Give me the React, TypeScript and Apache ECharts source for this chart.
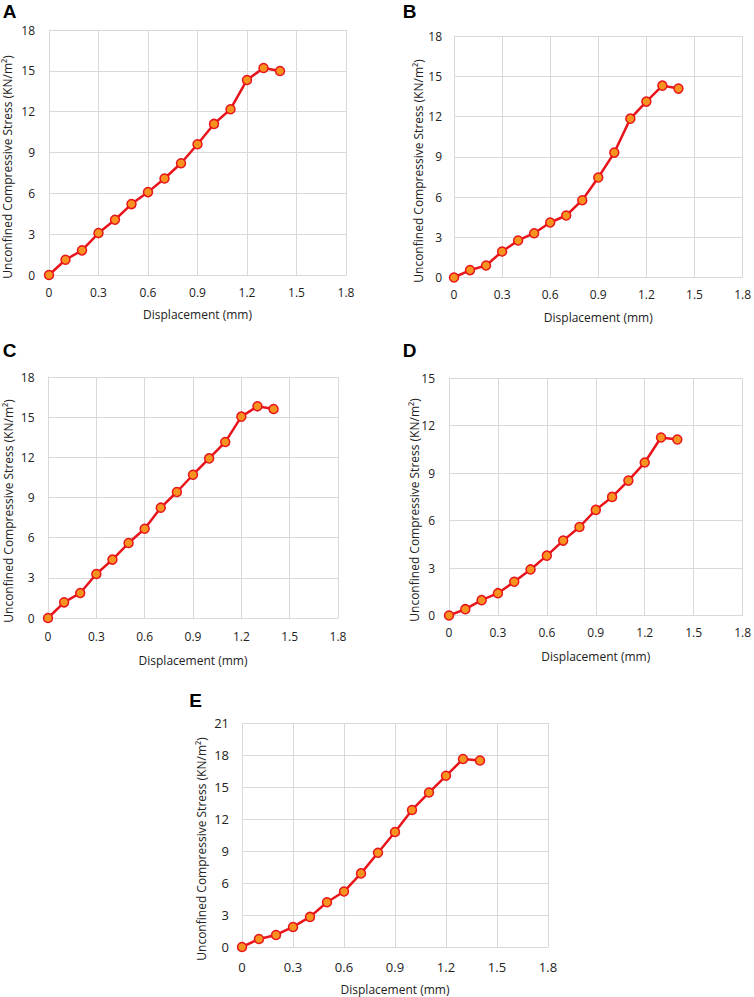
import React, { useEffect, useRef } from "react";
import * as echarts from "echarts";

const displacement = [0, 0.1, 0.2, 0.3, 0.4, 0.5, 0.6, 0.7, 0.8, 0.9, 1.0, 1.1, 1.2, 1.3, 1.4];
const stressA = [0, 1.12, 1.81, 3.08, 4.06, 5.21, 6.09, 7.09, 8.21, 9.61, 11.1, 12.18, 14.33, 15.21, 14.99];
const stressB = [0, 0.55, 0.89, 1.94, 2.76, 3.3, 4.1, 4.62, 5.76, 7.45, 9.31, 11.84, 13.11, 14.3, 14.08];
const stressC = [0, 1.17, 1.87, 3.29, 4.36, 5.6, 6.67, 8.24, 9.41, 10.7, 11.92, 13.14, 15.04, 15.81, 15.61];
const stressD = [0, 0.4, 0.97, 1.41, 2.13, 2.91, 3.78, 4.73, 5.59, 6.67, 7.49, 8.52, 9.66, 11.24, 11.12];
const stressE = [0, 0.75, 1.13, 1.88, 2.82, 4.2, 5.2, 6.9, 8.84, 10.78, 12.85, 14.48, 16.05, 17.62, 17.49];
const panelLabels = ["A", "B", "C", "D", "E"];
const yMaxes = [18, 18, 18, 15, 21];
const xMax = 1.8;
const xStep = 0.3;
const yStep = 3;
const xTitle = "Displacement (mm)";
const yTitle = "Unconfined Compressive Stress (KN/m²)";

const FONT = "'Open Sans', 'Noto Sans', sans-serif";
const GRID_COLOR = "#d9d9d9";
const LINE_RED = "#e8141b";
const FILL_ORANGE = "#f7931e";

// layout (pixels) per panel
const layouts = [
  { left: 49, top: 30, width: 297, height: 245, lblMargin: 11, nameGap: 33, yLblMargin: 14, yt: [7, 167], letter: [9.5, 11], fs: 12 },
  { left: 454, top: 36, width: 291, height: 241.5, lblMargin: 10.5, nameGap: 33.5, yLblMargin: 12, yt: [418, 171], letter: [409.5, 11], fs: 12 },
  { left: 48, top: 377, width: 290, height: 241, lblMargin: 12, nameGap: 36, yLblMargin: 13.5, yt: [8, 511], letter: [9.5, 350.5], fs: 12 },
  { left: 449, top: 378, width: 296, height: 237.5, lblMargin: 10.5, nameGap: 34.5, yLblMargin: 14, yt: [414, 510], letter: [409.5, 350.5], fs: 12 },
  { left: 242, top: 723, width: 306, height: 224, lblMargin: 13, nameGap: 36, yLblMargin: 13, yt: [201, 849], letter: [195.5, 700.5], fs: 13 },
];

const allStress = [stressA, stressB, stressC, stressD, stressE];

export default function App() {
  const ref = useRef<HTMLDivElement>(null);
  useEffect(() => {
    if (!ref.current) return;
    const chart = echarts.init(ref.current, undefined, { renderer: "svg" });
    const fmt = (v: number) => String(Math.round(v * 10) / 10);
    const grids = layouts.map((l) => ({ left: l.left, top: l.top, width: l.width, height: l.height, containLabel: false }));
    const xAxes = layouts.map((l, i) => ({
      type: "value",
      gridIndex: i,
      min: 0,
      max: xMax,
      interval: xStep,
      name: xTitle,
      nameLocation: "middle",
      nameGap: l.nameGap,
      nameTextStyle: { fontFamily: FONT, fontSize: 12, color: "#222" },
      axisLine: { show: true, lineStyle: { color: GRID_COLOR, width: 1 } },
      axisTick: { show: false },
      axisLabel: { formatter: fmt, margin: l.lblMargin, fontFamily: FONT, fontSize: l.fs, color: "#222" },
      splitLine: { show: true, lineStyle: { color: GRID_COLOR, width: 1 } },
    }));
    const yAxes = layouts.map((l, i) => ({
      type: "value",
      gridIndex: i,
      min: 0,
      max: yMaxes[i],
      interval: yStep,
      axisLine: { show: true, lineStyle: { color: GRID_COLOR, width: 1 } },
      axisTick: { show: false },
      axisLabel: { margin: l.yLblMargin, fontFamily: FONT, fontSize: l.fs, color: "#222" },
      splitLine: { show: true, lineStyle: { color: GRID_COLOR, width: 1 } },
    }));
    const series = allStress.map((s, i) => ({
      type: "line",
      xAxisIndex: i,
      yAxisIndex: i,
      data: displacement.map((d, j) => [d, s[j]]),
      symbol: "circle",
      symbolSize: 9,
      showAllSymbol: true,
      lineStyle: { color: LINE_RED, width: 2.5 },
      itemStyle: { color: FILL_ORANGE, borderColor: LINE_RED, borderWidth: 1.5 },
      z: 3,
    }));
    const graphics: any[] = [];
    layouts.forEach((l, i) => {
      graphics.push({
        type: "text",
        x: l.yt[0],
        y: l.yt[1],
        rotation: Math.PI / 2,
        style: {
          text: yTitle,
          fontFamily: FONT,
          fontSize: 12,
          fill: "#222",
          align: "center",
          verticalAlign: "middle",
        },
      });
      graphics.push({
        type: "text",
        x: l.letter[0],
        y: l.letter[1],
        style: {
          text: panelLabels[i],
          fontFamily: "'Liberation Sans', Arial, sans-serif",
          fontWeight: "bold",
          fontSize: 19,
          fill: "#000",
          align: "center",
          verticalAlign: "middle",
        },
      });
    });
    chart.setOption({
      animation: false,
      backgroundColor: "#ffffff",
      grid: grids,
      xAxis: xAxes,
      yAxis: yAxes,
      series,
      graphic: graphics,
    });
    return () => chart.dispose();
  }, []);
  return <div ref={ref} style={{ position: "absolute", left: 0, top: 0, width: 754, height: 997 }} />;
}
